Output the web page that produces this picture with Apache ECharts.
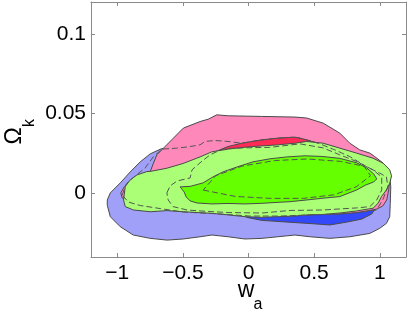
<!DOCTYPE html>
<html>
<head>
<meta charset="utf-8">
<script src="https://cdn.jsdelivr.net/npm/echarts@6/dist/echarts.min.js"></script>
<style>html,body{margin:0;padding:0;background:#fff}#c{width:409px;height:315px}</style>
</head>
<body>
<div id="c"></div>
<script>
// ---- data (w_a, Omega_k) ----
const xTicks = [-1, -0.5, 0, 0.5, 1];
const yTicks = [0, 0.05, 0.1];

const blueOuter = [[-0.665,0.0279],[-0.749,0.0247],[-0.825,0.0197],[-0.901,0.0134],[-0.977,0.0065],[-1.053,0.0002],[-1.076,-0.0042],[-1.076,-0.0075],[-1.053,-0.0147],[-0.977,-0.0210],[-0.878,-0.0262],[-0.749,-0.0283],[-0.620,-0.0294],[-0.498,-0.0287],[-0.369,-0.0273],[-0.278,-0.0262],[-0.156,-0.0273],[-0.027,-0.0287],[0.103,-0.0283],[0.224,-0.0273],[0.354,-0.0262],[0.468,-0.0273],[0.620,-0.0283],[0.772,-0.0273],[0.924,-0.0252],[1.000,-0.0220],[1.051,-0.0189],[1.076,-0.0147],[1.080,-0.0063],[1.084,0.0040],[1.076,0.0109],[1.000,0.0159],[0.848,0.0209],[0.620,0.0247],[0.392,0.0272],[0.011,0.0291],[-0.369,0.0297],[-0.559,0.0291]];

const blueInner = [[-0.010,-0.0152],[0.100,-0.0170],[0.316,-0.0182],[0.468,-0.0190],[0.620,-0.0199],[0.749,-0.0181],[0.863,-0.0162],[0.939,-0.0130],[0.985,-0.0074],[1.000,0.0021],[0.939,0.0096],[0.772,0.0159],[0.544,0.0197],[0.240,0.0216],[-0.065,0.0216],[-0.369,0.0197],[-0.597,0.0159],[-0.764,0.0084],[-0.825,-0.0011],[-0.749,-0.0074],[-0.559,-0.0086],[-0.293,-0.0105],[-0.141,-0.0124],[-0.040,-0.0140]];

const pinkOuter = [[-0.749,0.0136],[-0.724,0.0189],[-0.698,0.0241],[-0.648,0.0283],[-0.572,0.0346],[-0.496,0.0409],[-0.369,0.0450],[-0.306,0.0465],[-0.242,0.0492],[-0.154,0.0486],[0.100,0.0482],[0.354,0.0478],[0.443,0.0472],[0.569,0.0440],[0.696,0.0377],[0.772,0.0314],[0.848,0.0272],[0.924,0.0252],[0.962,0.0230],[1.023,0.0191],[1.061,0.0134],[1.076,0.0084],[1.068,0.0021],[1.053,-0.0042],[1.023,-0.0080],[0.977,-0.0099],[0.924,-0.0108],[0.825,-0.0121],[0.696,-0.0130],[0.544,-0.0133],[0.392,-0.0136],[0.163,-0.0136],[-0.027,-0.0133],[-0.217,-0.0124],[-0.445,-0.0111],[-0.673,-0.0092],[-0.825,-0.0074],[-0.916,-0.0055],[-0.962,-0.0030],[-0.973,0.0002],[-0.947,0.0040],[-0.863,0.0084],[-0.787,0.0115]];

const pinkInner = [[-0.156,0.0293],[-0.052,0.0314],[0.100,0.0335],[0.227,0.0346],[0.354,0.0352],[0.392,0.0346],[0.443,0.0335],[0.506,0.0319],[0.620,0.0291],[0.772,0.0241],[0.886,0.0178],[0.939,0.0096],[0.939,0.0008],[0.848,-0.0055],[0.620,-0.0092],[0.316,-0.0099],[0.011,-0.0092],[-0.293,-0.0074],[-0.521,-0.0042],[-0.673,0.0008],[-0.688,0.0084],[-0.521,0.0147],[-0.369,0.0209],[-0.293,0.0247]];

const greenOuter = [[-0.774,0.0136],[-0.749,0.0137],[-0.622,0.0157],[-0.498,0.0187],[-0.369,0.0228],[-0.280,0.0260],[-0.154,0.0277],[-0.027,0.0289],[0.100,0.0297],[0.227,0.0304],[0.354,0.0314],[0.443,0.0325],[0.569,0.0314],[0.696,0.0283],[0.823,0.0252],[0.949,0.0220],[1.025,0.0189],[1.076,0.0147],[1.090,0.0109],[1.076,0.0063],[1.051,0.0021],[1.013,-0.0021],[0.987,-0.0063],[0.949,-0.0094],[0.823,-0.0111],[0.696,-0.0124],[0.569,-0.0133],[0.443,-0.0136],[0.354,-0.0143],[0.227,-0.0147],[0.100,-0.0151],[-0.027,-0.0147],[-0.154,-0.0136],[-0.280,-0.0126],[-0.369,-0.0122],[-0.496,-0.0116],[-0.622,-0.0109],[-0.749,-0.0116],[-0.876,-0.0105],[-0.939,-0.0084],[-0.952,-0.0042],[-0.939,0.0042],[-0.901,0.0084],[-0.850,0.0115]];

const greenInner = [[-0.521,0.0040],[-0.445,0.0043],[-0.346,0.0065],[-0.270,0.0103],[-0.194,0.0134],[-0.087,0.0165],[0.034,0.0197],[0.163,0.0216],[0.293,0.0228],[0.430,0.0235],[0.559,0.0231],[0.696,0.0219],[0.825,0.0191],[0.901,0.0159],[0.954,0.0121],[0.977,0.0090],[0.954,0.0071],[0.894,0.0052],[0.825,0.0021],[0.696,-0.0021],[0.567,-0.0031],[0.445,-0.0042],[0.316,-0.0053],[0.224,-0.0057],[0.103,-0.0063],[-0.027,-0.0067],[-0.156,-0.0064],[-0.278,-0.0067],[-0.392,-0.0061],[-0.445,-0.0048],[-0.475,-0.0023],[-0.490,0.0008]];

const dashOuter = [[-0.962,-0.0011],[-0.932,0.0058],[-0.863,0.0109],[-0.787,0.0159],[-0.726,0.0228],[-0.660,0.0277],[-0.546,0.0283],[-0.445,0.0293],[-0.369,0.0304],[-0.331,0.0325],[-0.255,0.0331],[-0.156,0.0325],[-0.052,0.0314],[0.100,0.0335],[0.224,0.0346],[0.354,0.0352],[0.445,0.0335],[0.544,0.0310],[0.658,0.0272],[0.772,0.0230],[0.899,0.0167],[1.000,0.0126],[1.051,0.0103],[1.061,0.0040],[1.023,-0.0042],[0.975,-0.0105],[0.848,-0.0121],[0.696,-0.0130],[0.468,-0.0136],[0.240,-0.0143],[0.011,-0.0143],[-0.217,-0.0130],[-0.498,-0.0118],[-0.673,-0.0096],[-0.825,-0.0077],[-0.916,-0.0055]];

const dashInner = [[-0.622,0.0002],[-0.597,0.0046],[-0.544,0.0077],[-0.445,0.0096],[-0.430,0.0147],[-0.369,0.0191],[-0.293,0.0241],[-0.194,0.0279],[-0.027,0.0285],[0.163,0.0288],[0.392,0.0310],[0.567,0.0285],[0.696,0.0241],[0.825,0.0199],[0.947,0.0147],[1.015,0.0103],[1.015,0.0021],[0.977,-0.0042],[0.924,-0.0084],[0.825,-0.0092],[0.567,-0.0105],[0.316,-0.0108],[0.103,-0.0124],[-0.156,-0.0121],[-0.369,-0.0111],[-0.468,-0.0105],[-0.574,-0.0084],[-0.612,-0.0042]];

const dashCore = [[-0.345,0.0020],[-0.100,-0.0020],[0.163,-0.0032],[0.418,-0.0032],[0.650,-0.0010],[0.820,0.0040],[0.930,0.0110],[0.880,0.0170],[0.700,0.0200],[0.450,0.0215],[0.200,0.0205],[-0.050,0.0170],[-0.250,0.0110]];

// ---- chart ----
function poly(name, pts, fill, dashed) {
  return {
    type: 'custom', name: name, data: pts, encode: {x: 0, y: 1},
    coordinateSystem: 'cartesian2d', clip: true, silent: true,
    renderItem: function (params, api) {
      if (params.dataIndex !== 0) return null;
      const points = pts.map(function (p) { return api.coord(p); });
      return {
        type: 'polygon',
        shape: {points: points},
        style: {
          fill: fill || 'none',
          stroke: dashed ? '#555' : '#4a4a4a',
          lineWidth: 1,
          lineDash: dashed ? [6, 3] : null
        }
      };
    }
  };
}

const fmt = function (v) { return String(v).replace('-', '\u2212'); };
const font = 'Liberation Sans';
const axisColor = '#8a8a8a';

const chart = echarts.init(document.getElementById('c'), null, {renderer: 'canvas'});
chart.setOption({
  animation: false,
  backgroundColor: '#fff',
  grid: {left: 91, right: 3, top: 2, bottom: 58, containLabel: false},
  xAxis: [{
    type: 'value', min: -1.2, max: 1.2, position: 'bottom',
    axisLine: {show: true, onZero: false, lineStyle: {color: axisColor}},
    axisTick: {show: true, inside: true, length: 4, customValues: xTicks, lineStyle: {color: axisColor}},
    axisLabel: {show: true, customValues: xTicks, formatter: fmt, color: '#000', fontSize: 21, fontFamily: font, margin: 6},
    splitLine: {show: false}
  }, {
    type: 'value', min: -1.2, max: 1.2, position: 'top',
    axisLine: {show: true, onZero: false, lineStyle: {color: axisColor}},
    axisTick: {show: true, inside: true, length: 4, customValues: xTicks, lineStyle: {color: axisColor}},
    axisLabel: {show: false}, splitLine: {show: false}
  }],
  yAxis: [{
    type: 'value', min: -0.04, max: 0.12, position: 'left',
    axisLine: {show: true, onZero: false, lineStyle: {color: axisColor}},
    axisTick: {show: true, inside: true, length: 4, customValues: yTicks, lineStyle: {color: axisColor}},
    axisLabel: {show: true, customValues: yTicks, formatter: fmt, color: '#000', fontSize: 21, fontFamily: font, margin: 5},
    splitLine: {show: false}
  }, {
    type: 'value', min: -0.04, max: 0.12, position: 'right',
    axisLine: {show: true, onZero: false, lineStyle: {color: axisColor}},
    axisTick: {show: true, inside: true, length: 4, customValues: yTicks, lineStyle: {color: axisColor}},
    axisLabel: {show: false}, splitLine: {show: false}
  }],
  graphic: [
    {type: 'text', x: 246, y: 302, style: {text: 'w', fontSize: 23, fontFamily: font, fill: '#000', align: 'center', verticalAlign: 'bottom'}},
    {type: 'text', x: 258, y: 313, style: {text: 'a', fontSize: 16, fontFamily: font, fill: '#000', align: 'center', verticalAlign: 'bottom'}},
    {type: 'group', x: 26, y: 136, rotation: Math.PI / 2, children: [
      {type: 'text', x: 0, y: 0, style: {text: '\u03A9', fontSize: 23, fontFamily: font, fill: '#000', align: 'center', verticalAlign: 'bottom'}},
      {type: 'text', x: 13, y: 12, style: {text: 'k', fontSize: 16, fontFamily: font, fill: '#000', align: 'center', verticalAlign: 'bottom'}}
    ]}
  ],
  series: [
    poly('blue95', blueOuter, '#a0a0f8'),
    poly('blue68', blueInner, '#3347fb'),
    poly('pink95', pinkOuter, '#ff88bb'),
    poly('pink68', pinkInner, '#ff2a55'),
    poly('green95', greenOuter, '#aaff77'),
    poly('green68', greenInner, '#66ff00'),
    poly('dash95', dashOuter, null, true),
    poly('dash68', dashInner, null, true),
    poly('dashCore', dashCore, null, true)
  ]
});
</script>
</body>
</html>
